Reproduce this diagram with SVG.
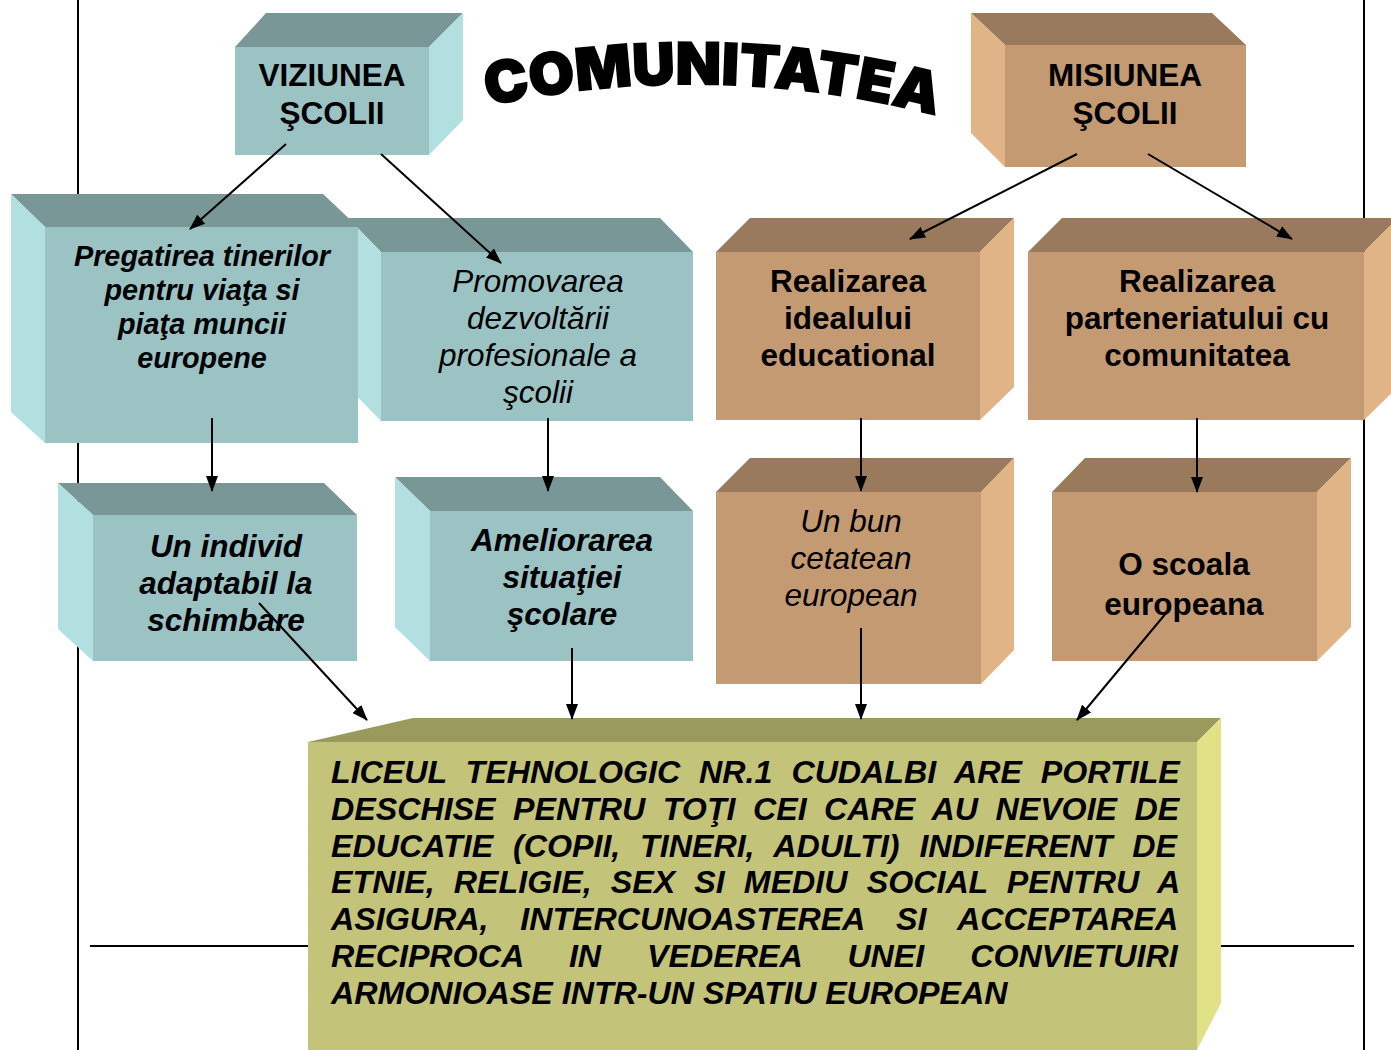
<svg xmlns="http://www.w3.org/2000/svg" width="1391" height="1050" viewBox="0 0 1391 1050">
<defs>
<style>
.tf{fill:#9CC3C4}.tt{fill:#7A9797}.ts{fill:#B2DFE0}
.bf{fill:#C49A72}.bt{fill:#9A7A5C}.bs{fill:#E0B487}
.of{fill:#C3C37A}.ot{fill:#9A995E}.os{fill:#E1E188}
.t{font-family:"Liberation Sans",Arial,sans-serif;font-size:31.5px;fill:#000;text-anchor:middle}
.b{font-weight:bold}.i{font-style:italic}
.pl{stroke:#000;stroke-width:2;fill:none}
.c{stroke:#000;stroke-width:2;fill:none;marker-end:url(#ah)}
.big{font-family:"Liberation Sans",Arial,sans-serif;font-size:32.2px;font-weight:bold;font-style:italic;fill:#000}
</style>
<marker id="ah" markerWidth="16" markerHeight="12" refX="15" refY="6" orient="auto" markerUnits="userSpaceOnUse">
<path d="M0,0 L16,6 L0,12 Z" fill="#000"/>
</marker>
</defs>
<rect width="1391" height="1050" fill="#fff"/>
<g id="page-lines">
<line class="pl" x1="78" y1="0" x2="78" y2="1050"/>
<line class="pl" x1="1364" y1="0" x2="1364" y2="1050"/>
<line class="pl" x1="90" y1="946" x2="308" y2="946"/>
<line class="pl" x1="1221" y1="946" x2="1354" y2="946"/>
</g>
<g id="promovarea">
<polygon class="tt" points="348,218 660,218 693,252 381,252"/>
<polygon class="ts" points="348,218 381,252 381,421 348,387"/>
<rect class="tf" x="381" y="252" width="312" height="169"/>
<text class="t i"><tspan x="538" y="292">Promovarea</tspan><tspan x="538" y="329">dezvoltării</tspan><tspan x="538" y="366">profesionale a</tspan><tspan x="538" y="403">şcolii</tspan></text>
</g>
<g id="pregatirea">
<polygon class="tt" points="11,194 323,194 358,227 45,227"/>
<polygon class="ts" points="11,194 45,227 45,443 11,412"/>
<rect class="tf" x="45" y="227" width="313" height="216"/>
<text class="t b i" style="font-size:28.8px"><tspan x="202" y="266">Pregatirea tinerilor</tspan><tspan x="202" y="300">pentru viaţa si</tspan><tspan x="202" y="334">piaţa muncii</tspan><tspan x="202" y="368">europene</tspan></text>
</g>
<g id="viziunea">
<polygon class="tt" points="266,13 463,13 429,47 235,47"/>
<polygon class="ts" points="429,47 463,13 463,120 429,155"/>
<rect class="tf" x="235" y="47" width="194" height="108"/>
<text class="t b"><tspan x="332" y="86">VIZIUNEA</tspan><tspan x="332" y="124">ŞCOLII</tspan></text>
</g>
<g id="misiunea">
<polygon class="bt" points="971,13 1212,13 1246,45 1005,45"/>
<polygon class="bs" points="971,13 1005,45 1005,167 971,133"/>
<rect class="bf" x="1005" y="45" width="241" height="122"/>
<text class="t b"><tspan x="1125" y="86">MISIUNEA</tspan><tspan x="1125" y="124">ŞCOLII</tspan></text>
</g>
<g id="idealul">
<polygon class="bt" points="750,218 1014,218 980,252 716,252"/>
<polygon class="bs" points="980,252 1014,218 1014,387 980,420"/>
<rect class="bf" x="716" y="252" width="264" height="168"/>
<text class="t b"><tspan x="848" y="292">Realizarea</tspan><tspan x="848" y="329">idealului</tspan><tspan x="848" y="366">educational</tspan></text>
</g>
<g id="parteneriatul">
<polygon class="bt" points="1062,218 1398,218 1364,252 1028,252"/>
<polygon class="bs" points="1364,252 1398,218 1398,387 1364,420"/>
<rect class="bf" x="1028" y="252" width="336" height="168"/>
<text class="t b"><tspan x="1197" y="292">Realizarea</tspan><tspan x="1197" y="329">parteneriatului cu</tspan><tspan x="1197" y="366">comunitatea</tspan></text>
</g>
<g id="individ">
<polygon class="tt" points="58,483 324,483 357,515 93,515"/>
<polygon class="ts" points="58,483 93,515 93,661 58,629"/>
<rect class="tf" x="93" y="515" width="264" height="146"/>
<text class="t b i"><tspan x="226" y="557">Un individ</tspan><tspan x="226" y="594">adaptabil la</tspan><tspan x="226" y="631">schimbare</tspan></text>
</g>
<g id="ameliorarea">
<polygon class="tt" points="395,477 660,477 693,511 430,511"/>
<polygon class="ts" points="395,477 430,511 430,661 395,627"/>
<rect class="tf" x="430" y="511" width="263" height="150"/>
<text class="t b i"><tspan x="562" y="551">Ameliorarea</tspan><tspan x="562" y="588">situaţiei</tspan><tspan x="562" y="625">şcolare</tspan></text>
</g>
<g id="cetatean">
<polygon class="bt" points="750,458 1014,458 981,492 716,492"/>
<polygon class="bs" points="981,492 1014,458 1014,650 981,684"/>
<rect class="bf" x="716" y="492" width="265" height="192"/>
<text class="t i"><tspan x="851" y="532">Un bun</tspan><tspan x="851" y="569">cetatean</tspan><tspan x="851" y="606">european</tspan></text>
</g>
<g id="scoala">
<polygon class="bt" points="1085,458 1351,458 1317,492 1052,492"/>
<polygon class="bs" points="1317,492 1351,458 1351,627 1317,661"/>
<rect class="bf" x="1052" y="492" width="265" height="169"/>
<text class="t b"><tspan x="1184" y="575">O scoala</tspan><tspan x="1184" y="615">europeana</tspan></text>
</g>
<g id="liceul">
<polygon class="ot" points="308,742 413,718 1221,718 1197,742"/>
<polygon class="os" points="1197,742 1221,718 1221,1003 1197,1050"/>
<rect class="of" x="308" y="742" width="889" height="308"/>
<text class="big">
<tspan x="331" y="783" style="word-spacing:10px">LICEUL TEHNOLOGIC NR.1 CUDALBI ARE PORTILE</tspan>
<tspan x="331" y="820" style="word-spacing:8.5px">DESCHISE PENTRU TOŢI CEI CARE AU NEVOIE DE</tspan>
<tspan x="331" y="857" style="word-spacing:10.9px">EDUCATIE (COPII, TINERI, ADULTI) INDIFERENT DE</tspan>
<tspan x="331" y="893" style="word-spacing:10.2px">ETNIE, RELIGIE, SEX SI MEDIU SOCIAL PENTRU A</tspan>
<tspan x="331" y="930" style="word-spacing:22.9px">ASIGURA, INTERCUNOASTEREA SI ACCEPTAREA</tspan>
<tspan x="331" y="967" style="word-spacing:37px">RECIPROCA IN VEDEREA UNEI CONVIETUIRI</tspan>
<tspan x="331" y="1004">ARMONIOASE INTR-UN SPATIU EUROPEAN</tspan>
</text>
</g>
<g id="title">
<path id="arc" d="M 488 106 Q 715 58 938 116" fill="none"/>
<text style="font-family:Inter,Roboto,Lato,'DejaVu Sans',sans-serif;font-weight:900;font-size:58px;fill:#000;stroke:#000;stroke-width:1.5"><textPath href="#arc" textLength="452" lengthAdjust="spacingAndGlyphs">COMUNITATEA</textPath></text>
</g>
<g id="connectors">
<line class="c" x1="286" y1="144" x2="190" y2="229"/>
<line class="c" x1="381" y1="154" x2="501" y2="263"/>
<line class="c" x1="1077" y1="154" x2="910" y2="239"/>
<line class="c" x1="1148" y1="154" x2="1292" y2="239"/>
<line class="c" x1="212" y1="418" x2="212" y2="491"/>
<line class="c" x1="548" y1="418" x2="548" y2="491"/>
<line class="c" x1="861" y1="418" x2="861" y2="491"/>
<line class="c" x1="1197" y1="418" x2="1197" y2="492"/>
<line class="c" x1="259" y1="603" x2="367" y2="720"/>
<line class="c" x1="572" y1="648" x2="572" y2="719"/>
<line class="c" x1="861" y1="628" x2="861" y2="719"/>
<line class="c" x1="1167" y1="612" x2="1077" y2="720"/>
</g>
</svg>
